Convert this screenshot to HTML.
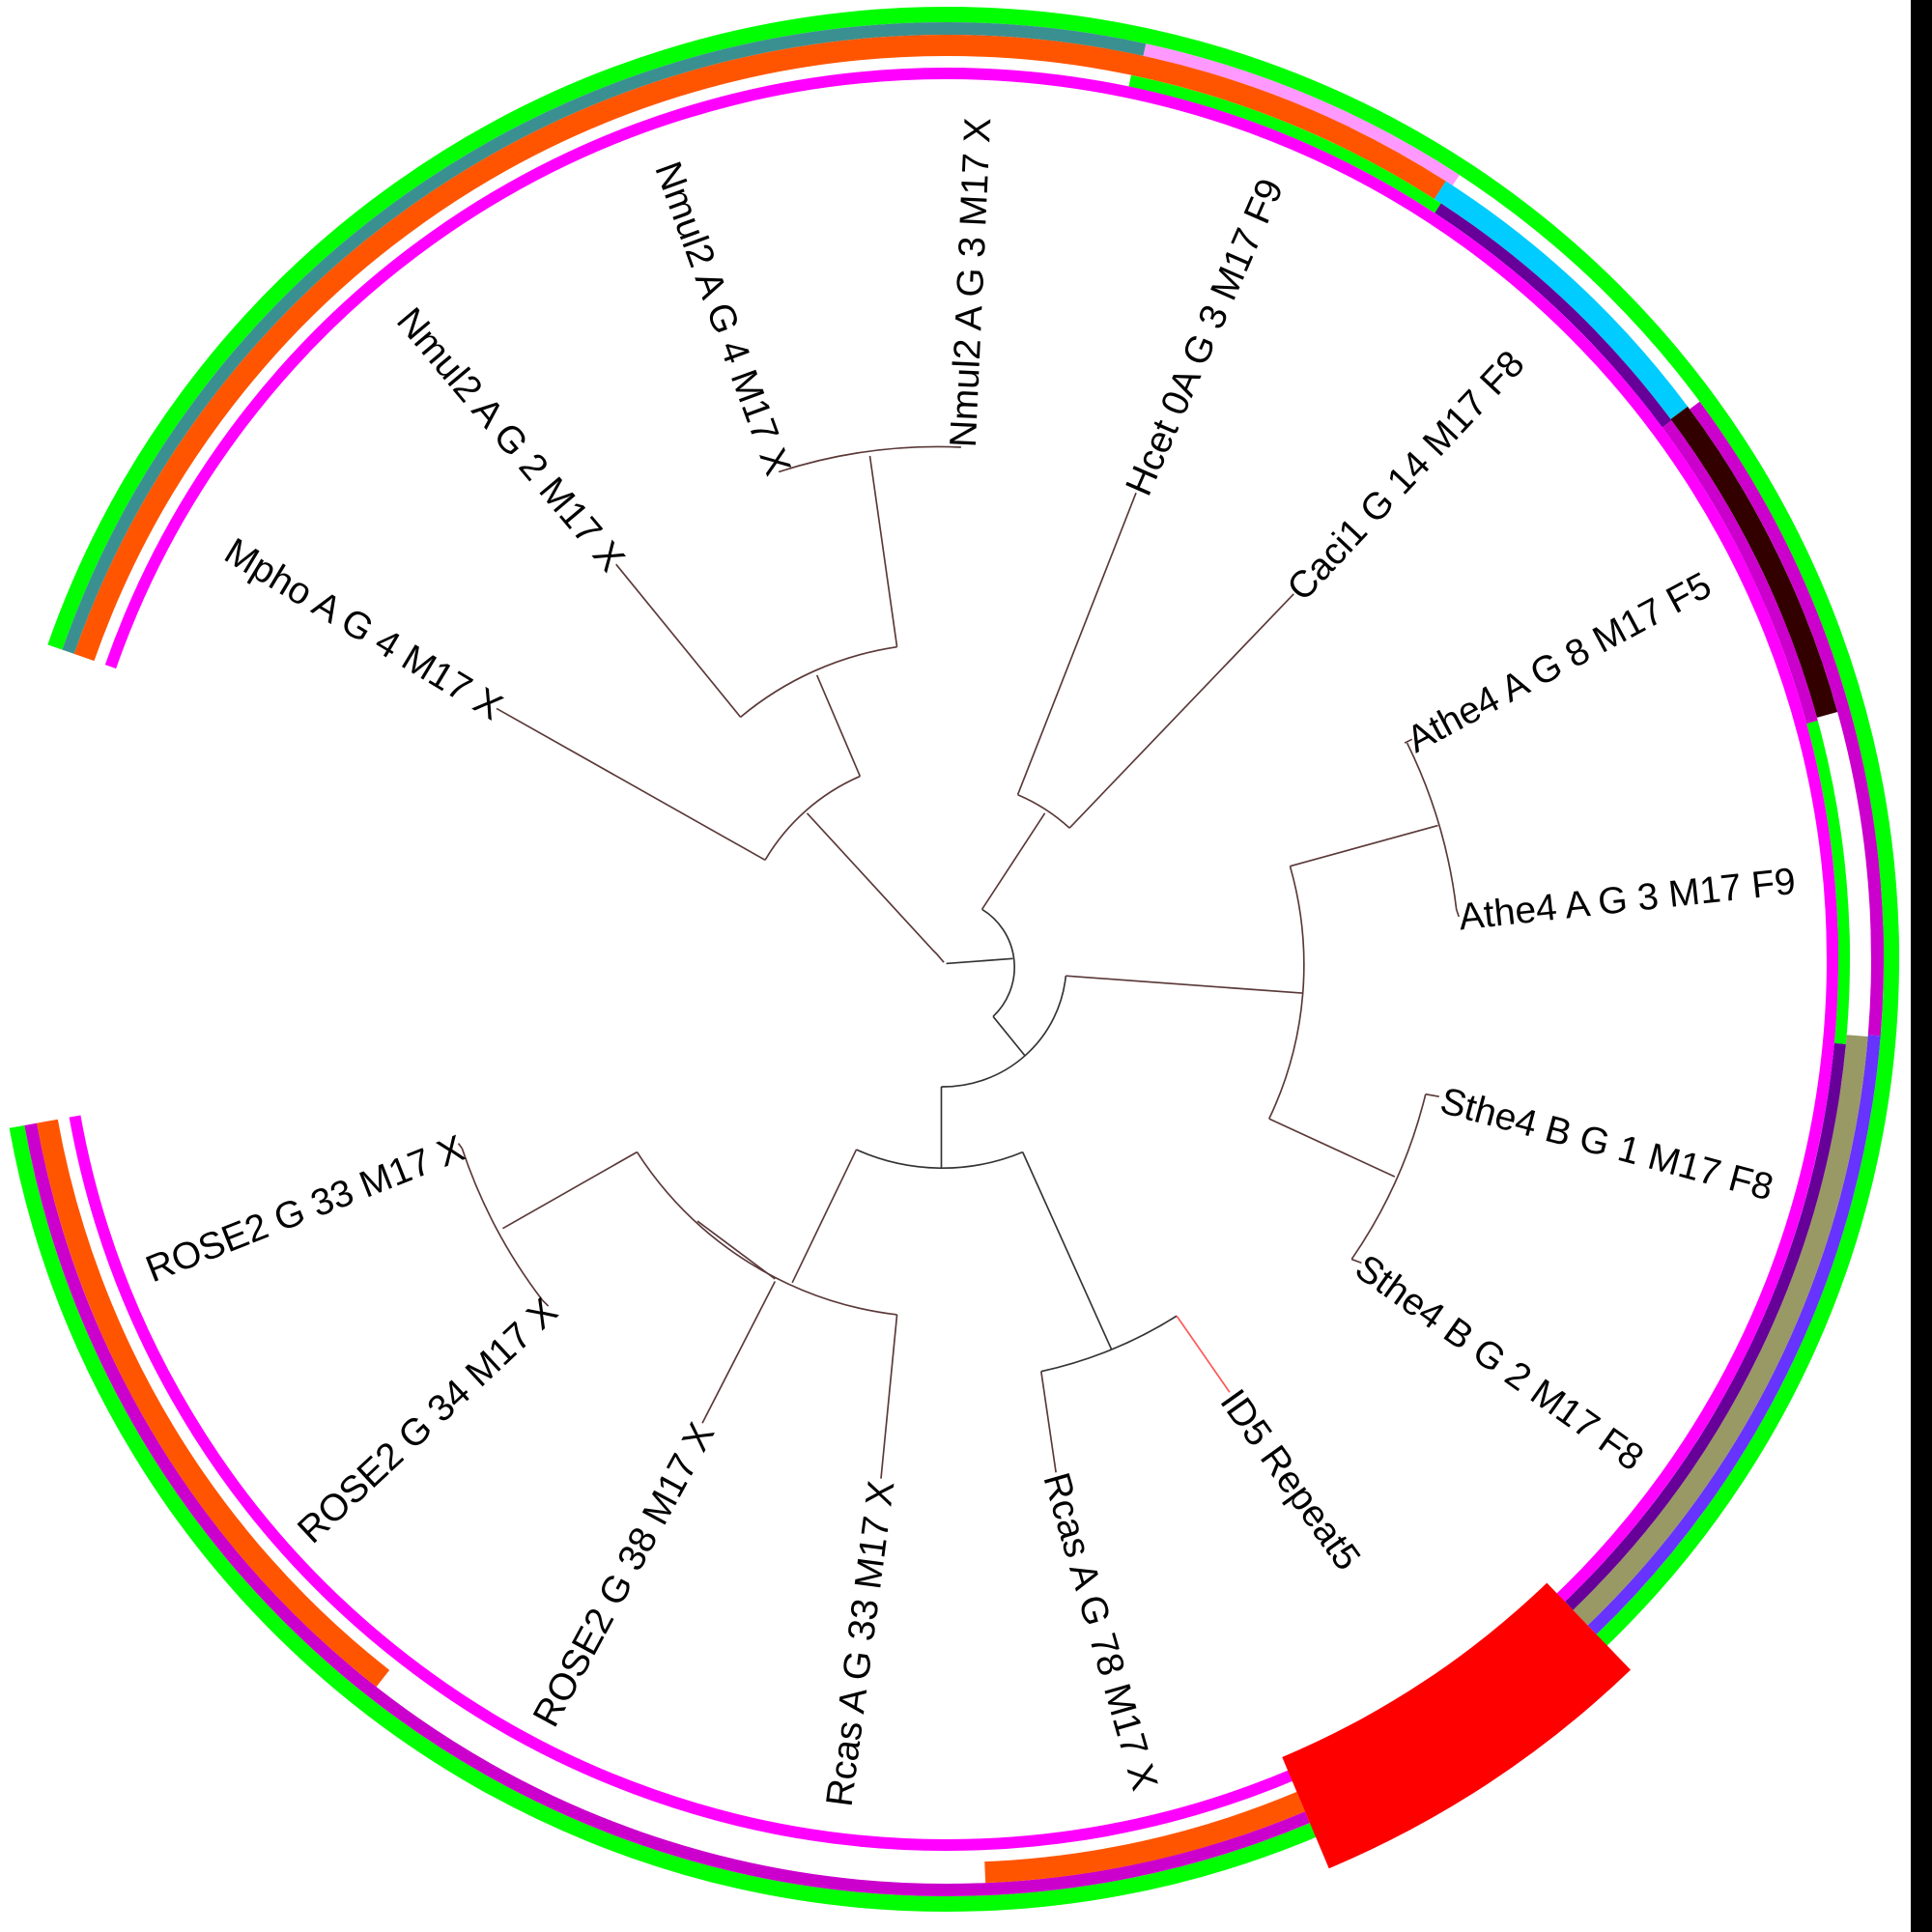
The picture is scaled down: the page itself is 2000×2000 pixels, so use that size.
<!DOCTYPE html>
<html><head><meta charset="utf-8"><style>html,body{margin:0;padding:0;background:#fff}svg{display:block}</style></head>
<body>
<svg width="2000" height="2000" viewBox="0 0 2000 2000" xmlns="http://www.w3.org/2000/svg">
<rect width="2000" height="2000" fill="#fff"/>
<rect x="1978" y="0" width="22" height="2000" fill="#000"/>
<g fill="none" transform="translate(980,993)">
  <!-- Ring A -->
  <circle r="978" pathLength="360" stroke="#00ff00" stroke-width="16" stroke-dasharray="0 0 169.8 400"/>
  <circle r="978" pathLength="360" stroke="#00ff00" stroke-width="16" stroke-dasharray="0 199.3 161 400"/>
  <circle r="978" pathLength="360" stroke="#00ff00" stroke-width="16" stroke-dasharray="0 358 4 400"/>
  <!-- Ring B -->
  <circle r="963.5" pathLength="360" stroke="#3a9090" stroke-width="13" stroke-dasharray="0 199.3 83 400"/>
  <circle r="963.5" pathLength="360" stroke="#ff99ff" stroke-width="13" stroke-dasharray="0 282.3 20.9 400"/>
  <circle r="963.5" pathLength="360" stroke="#cc00cc" stroke-width="13" stroke-dasharray="0 323.5 37 400"/>
  <circle r="963.5" pathLength="360" stroke="#cc00cc" stroke-width="13" stroke-dasharray="0 0 4.7 400"/>
  <circle r="963.5" pathLength="360" stroke="#cc00cc" stroke-width="13" stroke-dasharray="0 358 3 400"/>
  <circle r="963.5" pathLength="360" stroke="#6633ff" stroke-width="13" stroke-dasharray="0 4.7 41.4 400"/>
  <circle r="963.5" pathLength="360" stroke="#cc00cc" stroke-width="13" stroke-dasharray="0 67.2 102.6 400"/>
  <!-- Ring C -->
  <circle r="946" pathLength="360" stroke="#ff5500" stroke-width="22" stroke-dasharray="0 199.3 103.4 400"/>
  <circle r="946" pathLength="360" stroke="#00ccff" stroke-width="22" stroke-dasharray="0 302.7 20.6 400"/>
  <circle r="946" pathLength="360" stroke="#330000" stroke-width="22" stroke-dasharray="0 323.3 21.2 400"/>
  <circle r="946" pathLength="360" stroke="#999966" stroke-width="22" stroke-dasharray="0 4.8 41.3 400"/>
  <circle r="946" pathLength="360" stroke="#ff5500" stroke-width="22" stroke-dasharray="0 67.2 20.4 400"/>
  <circle r="946" pathLength="360" stroke="#ff5500" stroke-width="22" stroke-dasharray="0 128.1 41.7 400"/>
  <!-- Ring D -->
  <circle r="929" pathLength="360" stroke="#00ff00" stroke-width="12" stroke-dasharray="0 281.8 21.4 400"/>
  <circle r="929" pathLength="360" stroke="#660099" stroke-width="12" stroke-dasharray="0 303.2 20.2 400"/>
  <circle r="929" pathLength="360" stroke="#cc00cc" stroke-width="12" stroke-dasharray="0 323.4 21.3 400"/>
  <circle r="929" pathLength="360" stroke="#00ff00" stroke-width="12" stroke-dasharray="0 344.7 16 400"/>
  <circle r="929" pathLength="360" stroke="#00ff00" stroke-width="12" stroke-dasharray="0 0 5.4 400"/>
  <circle r="929" pathLength="360" stroke="#00ff00" stroke-width="12" stroke-dasharray="0 358 3 400"/>
  <circle r="929" pathLength="360" stroke="#660099" stroke-width="12" stroke-dasharray="0 5.4 40.7 400"/>
  <!-- Ring E -->
  <circle r="917" pathLength="360" stroke="#ff00ff" stroke-width="12" stroke-dasharray="0 0 169.8 400"/>
  <circle r="917" pathLength="360" stroke="#ff00ff" stroke-width="12" stroke-dasharray="0 199.3 161 400"/>
  <circle r="917" pathLength="360" stroke="#ff00ff" stroke-width="12" stroke-dasharray="0 358 3 400"/>
  <!-- Red block -->
  <circle r="958.5" pathLength="360" stroke="#ff0000" stroke-width="125" stroke-dasharray="0 46.1 21.1 400"/>
</g>
<g transform="scale(1.27551)">
 <g fill="none" stroke="#5a3838" stroke-width="1.3">
  <path d="M766,781 L760,774 L757,771 L655,660"/>
  <path d="M768,782 L822,778" stroke="#333"/>
  <path d="M797,738 A55,55 0 0 1 806,825" stroke="#333"/>
  <path d="M797,738 L848,660"/>
  <path d="M826,645 A146,146 0 0 1 868,672"/>
  <path d="M826,645 L922,400"/>
  <path d="M868,672 L1050,482"/>
  <path d="M806,825 L832,857" stroke="#333"/>
  <path d="M865,792 A100,100 0 0 1 764,882" stroke="#333"/>
  <path d="M865,792 L1057,806"/>
  <path d="M1047,703 A290,290 0 0 1 1030,908"/>
  <path d="M1047,703 L1167,670"/>
  <path d="M1142,603 A415,415 0 0 1 1182,738 L1184,744"/>
  <path d="M1140,603 L1146,600"/>
  <path d="M1030,908 L1132,955"/>
  <path d="M1157,888 A406,406 0 0 1 1097,1022"/>
  <path d="M1157,888 L1168,890"/>
  <path d="M1097,1022 L1105,1025"/>
  <path d="M764,882 L764,948" stroke="#333"/>
  <path d="M830,935 A170,170 0 0 1 695,933" stroke="#333"/>
  <path d="M830,935 L902,1095" stroke="#333"/>
  <path d="M955,1068 A343,343 0 0 1 845,1113" stroke="#333"/>
  <path d="M955,1068 L998,1130" stroke="#ff5555"/>
  <path d="M845,1113 L857,1195"/>
  <path d="M695,933 L643,1041"/>
  <path d="M728,1067 A292,292 0 0 1 517,935"/>
  <path d="M629,1040 L570,1155"/>
  <path d="M566,991 L629,1038"/>
  <path d="M728,1067 L715,1200"/>
  <path d="M517,935 L408,997"/>
  <path d="M440,1055 A425,425 0 0 1 375,932"/>
  <path d="M440,1055 L445,1060"/>
  <path d="M375,932 L372,928"/>
  <path d="M621,698 A166,166 0 0 1 698,630"/>
  <path d="M621,698 L403,575"/>
  <path d="M698,630 L663,548"/>
  <path d="M601,582 A257,257 0 0 1 728,525"/>
  <path d="M601,582 L500,458"/>
  <path d="M728,525 L706,370"/>
  <path d="M632,383 A417,417 0 0 1 780,363"/>
 </g>
 <g font-family="Liberation Sans, Arial, sans-serif" font-size="30.5" fill="#000">
  <text transform="translate(781,363) rotate(-87.4)" dy="0.35em">Nmul2 A G 3 M17 X</text>
  <text transform="translate(633,384) rotate(70)" dy="0.35em" text-anchor="end">Nmul2 A G 4 M17 X</text>
  <text transform="translate(501,459) rotate(50)" dy="0.35em" text-anchor="end">Nmul2 A G 2 M17 X</text>
  <text transform="translate(405,576) rotate(31)" dy="0.35em" text-anchor="end">Mpho A G 4 M17 X</text>
  <text transform="translate(922,400) rotate(-66.5)" dy="0.35em">Hcet 0A G 3 M17 F9</text>
  <text transform="translate(1050,482) rotate(-46.8)" dy="0.35em">Caci1 G 14 M17 F8</text>
  <text transform="translate(1144,602) rotate(-28.2)" dy="0.35em">Athe4 A G 8 M17 F5</text>
  <text transform="translate(1184,744) rotate(-6.2)" dy="0.35em">Athe4 A G 3 M17 F9</text>
  <text transform="translate(1170,892) rotate(15)" dy="0.35em">Sthe4 B G 1 M17 F8</text>
  <text transform="translate(1104,1025) rotate(35.4)" dy="0.35em">Sthe4 B G 2 M17 F8</text>
  <text transform="translate(998,1131) rotate(54.5)" dy="0.35em">ID5 Repeat5</text>
  <text transform="translate(857,1196) rotate(74)" dy="0.35em">Rcas A G 78 M17 X</text>
  <text transform="translate(715,1202) rotate(-82.5)" dy="0.35em" text-anchor="end">Rcas A G 33 M17 X</text>
  <text transform="translate(571,1157) rotate(-61.6)" dy="0.35em" text-anchor="end">ROSE2 G 38 M17 X</text>
  <text transform="translate(447,1059) rotate(-43)" dy="0.35em" text-anchor="end">ROSE2 G 34 M17 X</text>
  <text transform="translate(375,930) rotate(-21.6)" dy="0.35em" text-anchor="end">ROSE2 G 33 M17 X</text>
 </g>
</g>
</svg>
</body></html>
